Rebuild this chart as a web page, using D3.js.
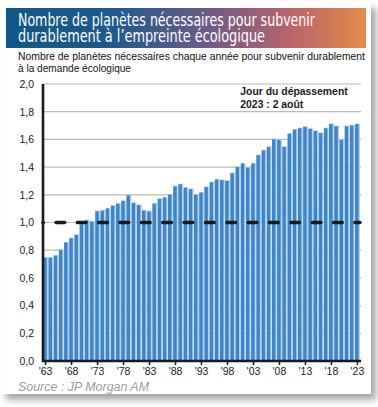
<!DOCTYPE html>
<html><head><meta charset="utf-8">
<script src="https://cdn.jsdelivr.net/npm/d3@7"></script>
<style>html,body{margin:0;padding:0;background:#fff}svg{display:block}</style>
</head><body>
<script>
const titleLines = ["Nombre de planètes nécessaires pour subvenir", "durablement à l\u2019empreinte écologique"];
const subtitleLines = ["Nombre de planètes nécessaires chaque année pour subvenir durablement", "à la demande écologique"];
const noteLines = ["Jour du dépassement", "2023 : 2 août"];
const sourceText = "Source : JP Morgan AM";

const years = ["1963","1964","1965","1966","1967","1968","1969","1970","1971","1972",
  "1973","1974","1975","1976","1977","1978","1979","1980","1981","1982",
  "1983","1984","1985","1986","1987","1988","1989","1990","1991","1992",
  "1993","1994","1995","1996","1997","1998","1999","2000","2001","2002",
  "2003","2004","2005","2006","2007","2008","2009","2010","2011","2012",
  "2013","2014","2015","2016","2017","2018","2019","2020","2021","2022","2023"];
const planets = [0.75,0.75,0.765,0.805,0.86,0.89,0.915,0.99,1.02,1.01,
  1.085,1.09,1.105,1.125,1.14,1.16,1.20,1.145,1.13,1.09,
  1.085,1.14,1.175,1.185,1.205,1.265,1.28,1.255,1.245,1.205,
  1.22,1.26,1.295,1.315,1.31,1.305,1.36,1.405,1.43,1.40,
  1.43,1.49,1.525,1.55,1.605,1.60,1.55,1.645,1.675,1.685,
  1.695,1.68,1.665,1.65,1.685,1.715,1.70,1.60,1.70,1.705,1.715];
const tickYears = ["1963","1968","1973","1978","1983","1988","1993","1998","2003","2008","2013","2018","2023"];
const yTicks = [0,0.2,0.4,0.6,0.8,1.0,1.2,1.4,1.6,1.8,2.0];
const threshold = [1.0];

const W = 378, H = 407;
const svg = d3.select("body").append("svg").attr("width", W).attr("height", H);
const defs = svg.append("defs");
const f = defs.append("filter").attr("id","sh").attr("x","-5%").attr("y","-5%").attr("width","115%").attr("height","115%");
f.append("feDropShadow").attr("dx",5).attr("dy",6).attr("stdDeviation",3.5).attr("flood-color","#000").attr("flood-opacity",0.35);
const g = defs.append("linearGradient").attr("id","tg").attr("x1","0").attr("x2","1").attr("y1","0").attr("y2","0");
[[0,"#0f5885"],[0.3,"#1d5b8d"],[0.55,"#6a5a88"],[0.78,"#b7636d"],[1,"#e5894a"]].forEach(s=>g.append("stop").attr("offset",s[0]).attr("stop-color",s[1]));

// card
svg.append("rect").attr("x",1).attr("y",2).attr("width",370).attr("height",392).attr("fill","#fff").attr("filter","url(#sh)");

// title banner
svg.append("rect").attr("x",6).attr("y",8).attr("width",360).attr("height",40).attr("fill","url(#tg)");
const titleFont = "'Liberation Sans Narrow','DejaVu Sans Condensed','Arial Narrow',sans-serif";
const tW = [297, 247], tY = [26, 41.7];
titleLines.forEach((t,i)=>svg.append("text").attr("x",18).attr("y",tY[i]).attr("fill","#fff")
  .attr("font-family",titleFont).attr("font-size",17.5).attr("textLength",tW[i]).attr("lengthAdjust","spacingAndGlyphs").text(t));

const sans = "'Liberation Sans',Arial,sans-serif";
const sW = [347, 113], sY = [60, 71.5];
subtitleLines.forEach((t,i)=>svg.append("text").attr("x",18).attr("y",sY[i]).attr("fill","#111")
  .attr("font-family",sans).attr("font-size",10.6).attr("textLength",sW[i]).attr("lengthAdjust","spacingAndGlyphs").text(t));

// scales
const x = d3.scaleBand().domain(years).range([43,360]).paddingInner(0).paddingOuter(0);
const y = d3.scaleLinear().domain([0,2]).range([361,84]);

// gridlines
svg.append("g").selectAll("line").data(yTicks.filter(v=>v>0)).join("line")
  .attr("x1",43).attr("x2",361).attr("y1",d=>y(d)).attr("y2",d=>y(d))
  .attr("stroke","#b9b9b9").attr("stroke-width",1.2);

// bars
const bw = x.bandwidth();
const bars = svg.append("g");
bars.selectAll("rect.l").data(years).join("rect").attr("class","l")
  .attr("x",d=>x(d)+0.4).attr("width",bw-0.4)
  .attr("y",(d,i)=>y(planets[i])).attr("height",(d,i)=>y(0)-y(planets[i]))
  .attr("fill","#b7d1ec");
bars.selectAll("rect.b").data(years).join("rect").attr("class","b")
  .attr("x",d=>x(d)+0.3).attr("width",bw-1.7)
  .attr("y",(d,i)=>y(planets[i])+0.6).attr("height",(d,i)=>y(0)-y(planets[i])-0.6)
  .attr("fill","#3f86c8");

// threshold dashed line
svg.append("g").selectAll("line").data(threshold).join("line")
  .attr("x1",43).attr("x2",360).attr("y1",d=>y(d)).attr("y2",d=>y(d))
  .attr("stroke","#1b1b1b").attr("stroke-width",3.6).attr("stroke-linecap","round")
  .attr("stroke-dasharray","8.6,12.75").attr("stroke-dashoffset",8.3);

// y axis
const fr = d3.formatLocale({decimal:",",thousands:" ",grouping:[3],currency:["","€"]}).format(".1f");
const ya = svg.append("g").attr("transform","translate(43,0)")
  .call(d3.axisLeft(y).tickValues(yTicks).tickFormat(fr).tickSize(0).tickPadding(9));
ya.select(".domain").remove();
ya.selectAll("text").attr("font-family",sans).attr("font-size",10.5).attr("fill","#222");

// x axis
const xa = svg.append("g").attr("transform","translate(0,361)")
  .call(d3.axisBottom(x).tickValues(tickYears).tickFormat(d=>"'"+d.slice(2)).tickSize(4).tickPadding(3));
xa.select(".domain").remove();
xa.selectAll("line").attr("stroke","#1b1b1b").attr("stroke-width",1.5);
xa.selectAll("text").attr("font-family",sans).attr("font-size",10.5).attr("fill","#222");

// axis lines
svg.append("line").attr("x1",43).attr("x2",43).attr("y1",84).attr("y2",362).attr("stroke","#1b1b1b").attr("stroke-width",2.6);
svg.append("line").attr("x1",42).attr("x2",361).attr("y1",361).attr("y2",361).attr("stroke","#1b1b1b").attr("stroke-width",2.6);

// annotation
const nW = [107.4, 63], nY = [95.3, 107.7];
noteLines.forEach((t,i)=>svg.append("text").attr("x",240.3).attr("y",nY[i]).attr("fill","#1a1a1a")
  .attr("font-family",sans).attr("font-weight","bold").attr("font-size",10.6)
  .attr("textLength",nW[i]).attr("lengthAdjust","spacingAndGlyphs").text(t));

// source
svg.append("text").attr("x",18).attr("y",390.5).attr("fill","#9b9b9b").attr("font-family",sans)
  .attr("font-style","italic").attr("font-size",12).attr("textLength",131).attr("lengthAdjust","spacingAndGlyphs").text(sourceText);
</script>
</body></html>
